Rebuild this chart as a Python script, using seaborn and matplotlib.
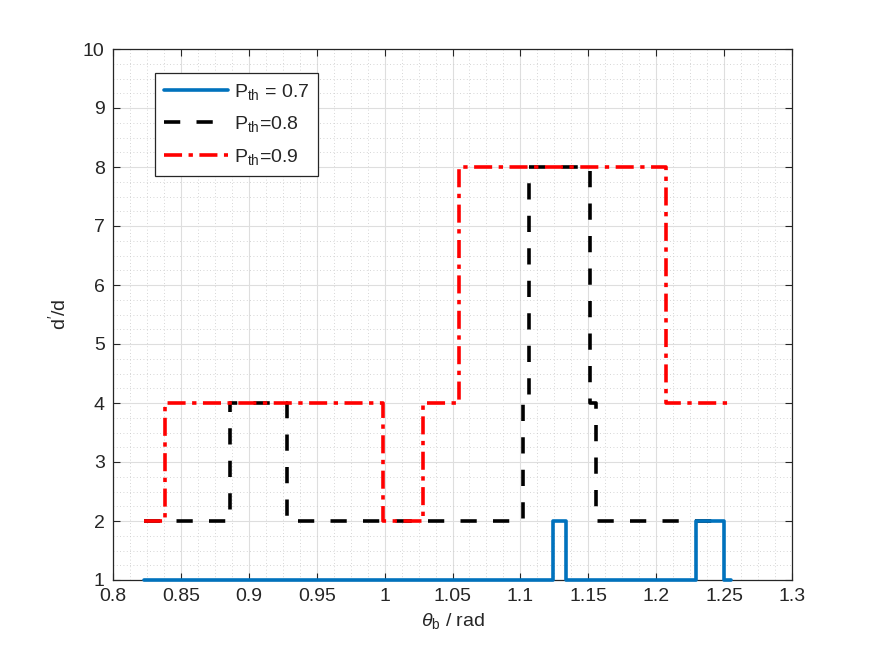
import matplotlib
matplotlib.use('Agg')
import matplotlib.pyplot as plt
from matplotlib.ticker import MultipleLocator
import pandas as pd
import seaborn as sns

sns.set_theme(style='white')
plt.rcParams.update({
    'font.family': ['Liberation Sans', 'DejaVu Sans'],
    'font.size': 14,
    'mathtext.fontset': 'custom',
    'mathtext.rm': 'Liberation Sans',
    'mathtext.it': 'Liberation Sans:italic',
})

# ── Step data (breakpoints in theta_b, level of d'/d after each breakpoint) ──
theta_07 = [0.8228, 1.1238, 1.1333, 1.2290, 1.2499, 1.2550]
ratio_07 = [1, 2, 1, 2, 1, 1]

theta_08 = [0.8228, 0.8860, 0.9280, 1.1020, 1.1063, 1.1512, 1.1555, 1.2494]
ratio_08 = [2, 4, 2, 4, 8, 4, 2, 2]

theta_09 = [0.8228, 0.8383, 0.9986, 1.0285, 1.0550, 1.2070, 1.2544]
ratio_09 = [2, 4, 2, 4, 8, 4, 4]

labels = [r'P$_{\rm th}$ = 0.7', r'P$_{\rm th}$=0.8', r'P$_{\rm th}$=0.9']

fig = plt.figure(figsize=(8.75, 6.57), dpi=100)
ax = fig.add_axes([113 / 875, 77 / 657, 679 / 875, 531 / 657])

df07 = pd.DataFrame({'theta': theta_07, 'ratio': ratio_07})
df08 = pd.DataFrame({'theta': theta_08, 'ratio': ratio_08})
df09 = pd.DataFrame({'theta': theta_09, 'ratio': ratio_09})

sns.lineplot(data=df07, x='theta', y='ratio', ax=ax, sort=False, estimator=None,
             drawstyle='steps-post', color='#0072BD', linewidth=2.6, label=labels[0],
             clip_on=False, zorder=5)
sns.lineplot(data=df08, x='theta', y='ratio', ax=ax, sort=False, estimator=None,
             drawstyle='steps-post', color='black', linewidth=2.6, dashes=False,
             label=labels[1], zorder=4).lines[-1].set_dashes((4.5, 4.5))
sns.lineplot(data=df09, x='theta', y='ratio', ax=ax, sort=False, estimator=None,
             drawstyle='steps-post', color='#FF0000', linewidth=2.6, dashes=False,
             label=labels[2], zorder=4).lines[-1].set_dashes((5, 1.8, 1.2, 1.8))

ax.set_xlim(0.8, 1.3)
ax.set_ylim(1, 10)
ax.xaxis.set_major_locator(MultipleLocator(0.05))
ax.xaxis.set_minor_locator(MultipleLocator(0.0125))
ax.yaxis.set_major_locator(MultipleLocator(1))
ax.yaxis.set_minor_locator(MultipleLocator(0.25))
ax.set_xticklabels([f'{v:g}' for v in ax.get_xticks()])

ax.grid(which='major', color='#dedede', linewidth=0.8, linestyle='-')
ax.grid(which='minor', color='#c8c8c8', linewidth=0.6, linestyle=(0, (1, 3)))
ax.set_axisbelow(True)

for side in ax.spines.values():
    side.set_color('#262626')
    side.set_linewidth(0.9)
ax.tick_params(which='major', direction='in', length=5, width=0.8, color='#262626',
               top=True, right=True, bottom=True, left=True, labelsize=14,
               labelcolor='#262626', pad=6)
ax.tick_params(which='minor', length=0)

ax.set_xlabel(r'$\theta_{\rm b}$ / rad', fontsize=14, color='#262626', labelpad=4)
ax.set_ylabel(r"d$'$/d", fontsize=14, color='#262626', labelpad=10)

leg = ax.legend(loc='upper left', bbox_to_anchor=(0.062, 0.955), fontsize=14,
                frameon=True, fancybox=False, edgecolor='#262626', framealpha=1,
                handlelength=3.3, handletextpad=0.3, borderpad=0.45,
                labelspacing=0.65, borderaxespad=0)
leg.get_frame().set_linewidth(0.9)

fig.savefig('out.png', dpi=100, facecolor='white')
plt.close(fig)
